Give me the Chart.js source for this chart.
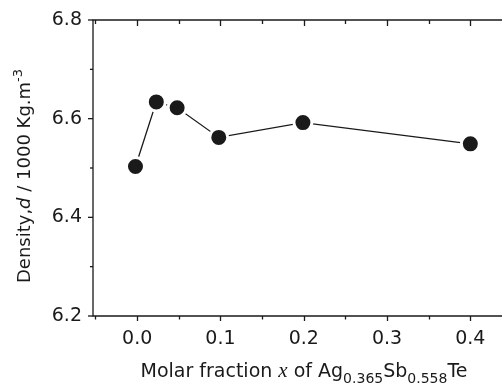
<!DOCTYPE html>
<html>
<head>
<meta charset="utf-8">
<script src="https://cdn.jsdelivr.net/npm/chart.js@4.4.1/dist/chart.umd.min.js"></script>
<style>
  html, body { margin: 0; padding: 0; background: #fff; }
  #wrap { width: 502px; height: 384px; }
</style>
</head>
<body>
<div id="wrap"><canvas id="densityChart" width="502" height="384"></canvas></div>
<script>
// values
const molarFraction = [-0.002, 0.023, 0.048, 0.098, 0.199, 0.4];
const density = [6.503, 6.634, 6.622, 6.562, 6.592, 6.549];

const xMajorTicks = [0.0, 0.1, 0.2, 0.3, 0.4];
const xMinorTicks = [-0.05, 0.05, 0.15, 0.25, 0.35];
const yMajorTicks = [6.2, 6.4, 6.6, 6.8];
const yMinorTicks = [6.3, 6.5, 6.7];

const INK = '#1a1a1a';
const SANS = '"DejaVu Sans", sans-serif';

// draw a run of differently styled text pieces, centred on (cx, baseline)
function drawRichText(ctx, pieces, cx, baseline) {
    let total = 0;
    pieces.forEach(p => {
        ctx.font = p.font;
        p.w = ctx.measureText(p.text).width;
        total += p.w;
    });
    let xPos = cx - total / 2;
    ctx.textAlign = 'left';
    ctx.textBaseline = 'alphabetic';
    pieces.forEach(p => {
        ctx.font = p.font;
        ctx.fillText(p.text, xPos, baseline + (p.dy || 0));
        xPos += p.w;
    });
}

const axisDecor = {
    id: 'axisDecor',
    afterDraw(chart) {
        const { ctx, chartArea: a, scales } = chart;
        const x = scales.x, y = scales.y;
        ctx.save();
        ctx.strokeStyle = INK;
        ctx.fillStyle = INK;
        ctx.lineWidth = 1.3;

        // frame: top, left, bottom (right side runs off the figure)
        ctx.beginPath();
        ctx.moveTo(a.right, a.top);
        ctx.lineTo(a.left, a.top);
        ctx.lineTo(a.left, a.bottom);
        ctx.lineTo(a.right, a.bottom);
        ctx.stroke();

        const seg = (x1, y1, x2, y2) => {
            ctx.beginPath();
            ctx.moveTo(x1, y1);
            ctx.lineTo(x2, y2);
            ctx.stroke();
        };

        xMajorTicks.forEach(v => {
            const px = Math.round(x.getPixelForValue(v)) + 0.5;
            seg(px, a.bottom, px, a.bottom + 5);
            seg(px, a.top, px, a.top + 6);
        });
        xMinorTicks.forEach(v => {
            const px = Math.round(x.getPixelForValue(v)) + 0.5;
            if (px < a.left + 2 || px > a.right) return;
            seg(px, a.bottom, px, a.bottom + 3.5);
            seg(px, a.top, px, a.top + 4);
        });
        yMajorTicks.forEach(v => {
            const py = y.getPixelForValue(v);
            seg(a.left - 5, py, a.left, py);
        });
        yMinorTicks.forEach(v => {
            const py = y.getPixelForValue(v);
            seg(a.left - 3, py, a.left, py);
        });

        // x axis title
        drawRichText(ctx, [
            { text: 'Molar fraction ', font: '19px ' + SANS },
            { text: 'x', font: 'italic 21px "Liberation Serif", serif' },
            { text: ' of Ag', font: '19px ' + SANS },
            { text: '0.365', font: '14px ' + SANS, dy: 6 },
            { text: 'Sb', font: '19px ' + SANS },
            { text: '0.558', font: '14px ' + SANS, dy: 6 },
            { text: 'Te', font: '19px ' + SANS }
        ], 304, 377);

        // y axis title, rotated
        ctx.translate(30, 176);
        ctx.rotate(-Math.PI / 2);
        drawRichText(ctx, [
            { text: 'Density,', font: '18px ' + SANS },
            { text: 'd', font: 'italic 18px ' + SANS },
            { text: ' / 1000 Kg.m', font: '18px ' + SANS },
            { text: '-3', font: '13px ' + SANS, dy: -8 }
        ], 0, 0);

        ctx.restore();
    }
};

const ctx = document.getElementById('densityChart').getContext('2d');
const densityChart = new Chart(ctx, {
    type: 'line',
    data: {
        datasets: [{
            data: molarFraction.map((v, i) => ({ x: v, y: density[i] })),
            borderColor: INK,
            borderWidth: 1.3,
            pointRadius: 9,
            pointHoverRadius: 9,
            pointBackgroundColor: INK,
            pointBorderColor: '#fff',
            pointBorderWidth: 3,
            tension: 0,
            fill: false
        }]
    },
    options: {
        responsive: false,
        animation: false,
        events: [],
        layout: { autoPadding: false, padding: { top: 20, right: 0, left: 0, bottom: 0 } },
        plugins: {
            legend: { display: false },
            tooltip: { enabled: false }
        },
        scales: {
            x: {
                type: 'linear',
                min: -0.053,
                max: 0.438,
                grid: { display: false, drawTicks: false },
                border: { display: false },
                afterBuildTicks: s => { s.ticks = xMajorTicks.map(v => ({ value: v })); },
                afterFit: s => {
                    s.height = 68;
                    s.paddingLeft = 0;
                    s.paddingRight = 0;
                },
                ticks: {
                    color: INK,
                    padding: 12,
                    font: { family: SANS, size: 19 },
                    callback: v => Number(v).toFixed(1)
                }
            },
            y: {
                min: 6.2,
                max: 6.8,
                grid: { display: false, drawTicks: false },
                border: { display: false },
                afterBuildTicks: s => { s.ticks = yMajorTicks.map(v => ({ value: v })); },
                afterFit: s => {
                    s.width = 93;
                    s.paddingTop = 0;
                    s.paddingBottom = 0;
                },
                ticks: {
                    color: INK,
                    padding: 11,
                    font: { family: SANS, size: 19 },
                    callback: v => Number(v).toFixed(1)
                }
            }
        }
    },
    plugins: [axisDecor]
});
</script>
</body>
</html>
